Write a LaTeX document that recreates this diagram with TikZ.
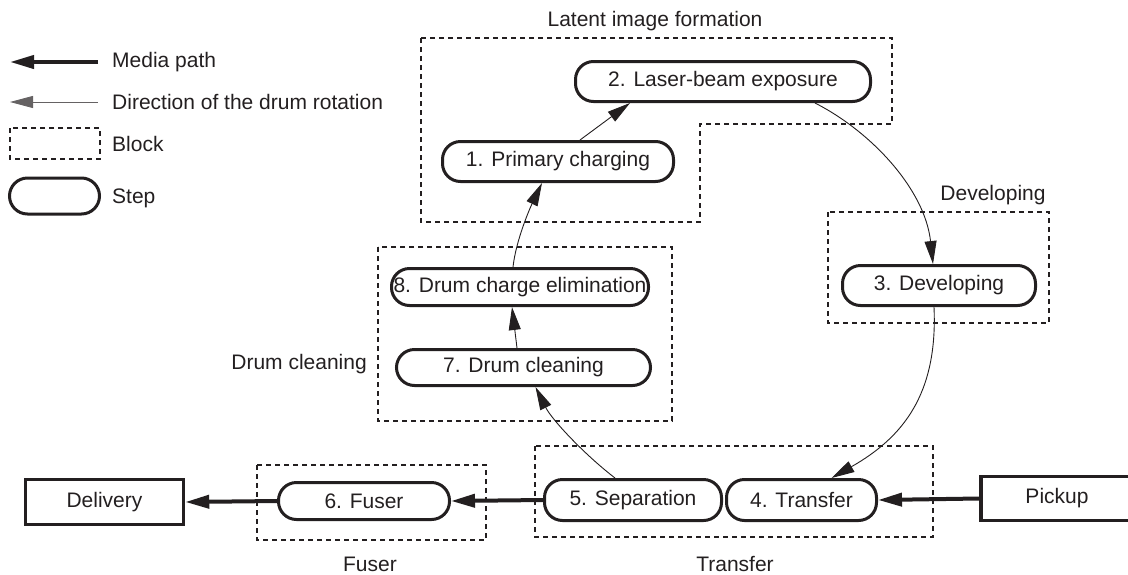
\documentclass[tikz,border=0pt]{standalone}
\usepackage{fontspec}
\setmainfont{Liberation Sans}
\usetikzlibrary{arrows.meta}
\definecolor{ink}{RGB}{35,31,32}
\begin{document}
\begin{tikzpicture}[x=1pt,y=-1pt,
  every node/.style={font=\fontsize{21}{25}\selectfont, text=ink},
  stepnode/.style={draw=ink, line width=3pt, rounded corners=18pt, inner sep=0pt},
  endbox/.style={draw=ink, line width=3.5pt, inner sep=0pt},
  blockline/.style={draw=ink, line width=1.1pt, dash pattern=on 5pt off 4pt},
  media/.style={draw=ink, line width=4pt, -{Triangle[length=24pt,width=13pt]}},
  drum/.style={draw=ink, line width=0.9pt, -{Triangle[length=23pt,width=12pt]}},
  lbl/.style={inner sep=0pt}]
\clip (0,0) rectangle (1128,574);
\useasboundingbox (0,0) rectangle (1128,574);

% ---- legend ----
\coordinate (lm1) at (98,62);  \coordinate (lm2) at (10,62);
\coordinate (ld1) at (98,102); \coordinate (ld2) at (10,102);
\draw[media] (lm1) -- (lm2);
\draw[drum, draw=ink!70] (ld1) -- (ld2);
\draw[blockline] (10,128) rectangle (100,159);
\node[stepnode, minimum width=90pt, minimum height=36pt] (lstep) at (54.5,196) {};
\node[lbl, anchor=west] (tm) at (112,62) {Media path};
\node[lbl, anchor=west] (td) at (112,102) {Direction of the drum rotation};
\node[lbl, anchor=west] (tb) at (112,144) {Block};
\node[lbl, anchor=west] (ts) at (112,198) {Step};

% ---- blocks ----
\draw[blockline] (421,38) -- (892,38) -- (892,124) -- (700,124) -- (700,222) -- (421,222) -- cycle;
\draw[blockline] (828,212) rectangle (1049,323);
\draw[blockline] (378,247) rectangle (672,421);
\draw[blockline] (257,465) rectangle (486,540);
\draw[blockline] (535,446) rectangle (933,537);

\node[lbl] (blat) at (655,21) {Latent image formation};
\node[lbl] (bdev) at (993,195) {Developing};
\node[lbl, anchor=east] (bdrum) at (367,364) {Drum cleaning};
\node[lbl] (bfus) at (370,564) {Fuser};
\node[lbl] (btra) at (735,564) {Transfer};

% ---- steps ----
\node[stepnode, minimum width=231pt, minimum height=40pt] (n1) at (558,161.5) {1. Primary charging};
\node[stepnode, minimum width=295pt, minimum height=40pt] (n2) at (723,81.5) {2. Laser-beam exposure};
\node[stepnode, minimum width=193pt, minimum height=40pt] (n3) at (939,285.5) {3. Developing};
\node[stepnode, minimum width=150pt, minimum height=41pt] (n4) at (801.5,500) {4. Transfer};
\node[stepnode, minimum width=177pt, minimum height=41pt] (n5) at (633,500) {5. Separation};
\node[stepnode, minimum width=171pt, minimum height=37pt] (n6) at (364,501) {6. Fuser};
\node[stepnode, minimum width=254pt, minimum height=36pt] (n7) at (523.5,367.5) {7. Drum cleaning};
\node[stepnode, minimum width=257pt, minimum height=37pt] (n8) at (520,287) {8. Drum charge elimination};

\node[endbox, minimum width=158pt, minimum height=45pt] (del) at (104.5,502) {Delivery};
\node[endbox, minimum width=152pt, minimum height=44pt] (pick) at (1057,498.5) {Pickup};

% ---- media path ----
\draw[media] (pick.west) -- (n4.east);
\draw[media] (n5.west) -- (n6.east);
\draw[media] (n6.west) -- (del.east);

% ---- drum rotation ----
\draw[drum] ([xshift=22pt]n1.north) -- ([xshift=-93pt]n2.south);
\draw[drum] ([xshift=92pt]n2.south) .. controls (872,132) and (925,190) .. ([xshift=-6pt]n3.north);
\draw[drum] ([xshift=-5pt]n3.south) .. controls (938,395) and (902,438) .. ([xshift=30pt]n4.north);
\draw[drum] ([xshift=-18pt]n5.north) .. controls (585,455) and (552,420) .. ([xshift=12pt]n7.south);
\draw[drum] ([xshift=-6.5pt]n7.north) -- ([xshift=-8pt]n8.south);
\draw[drum] ([xshift=-7pt]n8.north) .. controls (516,240) and (530,208) .. ([xshift=-16pt]n1.south);
\end{tikzpicture}
\end{document}
